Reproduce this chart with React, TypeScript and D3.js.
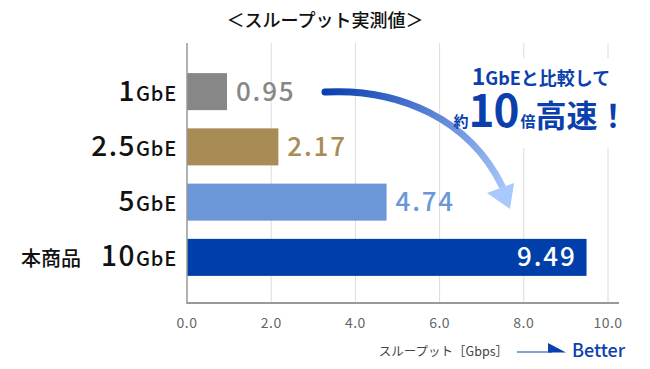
import React from "react"
import * as d3 from "d3"

const categories = ["1GbE", "2.5GbE", "5GbE", "10GbE"]
const catNumbers = ["1", "2.5", "5", "10"]
const values = [0.95, 2.17, 4.74, 9.49]
const barColors = ["#878787", "#a88b55", "#6b96d7", "#003fa9"]
const labelColors = ["#878787", "#a88b55", "#6b96d7", "#ffffff"]
const ticks = [0, 2, 4, 6, 8, 10]

const FONT = "'Noto Sans CJK JP', 'Noto Sans', sans-serif"
const BLUE = "#0b3fae"

const App: React.FC = () => {
  const width = 650
  const height = 369

  const x = d3.scaleLinear().domain([0, 10]).range([187, 608])
  const y = d3.scaleBand<string>()
    .domain(categories)
    .range([64, 285])
    .paddingInner(0.33)
    .paddingOuter(0.165)

  const axisY = 303
  const gridTop = 43

  // curved arrow from 1GbE value toward 10GbE bar
  const arrowPath = "M325,92 C400,88 470,120 502,186"

  return (
    <svg width={width} height={height} style={{ position: "absolute", left: 0, top: 0 }} fontFamily={FONT}>
      <defs>
        <linearGradient id="arrow-grad" x1="325" y1="92" x2="510" y2="205" gradientUnits="userSpaceOnUse">
          <stop offset="0%" stopColor="#0a3fae" />
          <stop offset="100%" stopColor="#b0cdff" />
        </linearGradient>
      </defs>

      <text x={325} y={27} textAnchor="middle" fontSize={18} fontWeight={500} fill="#111">
        ＜スループット実測値＞
      </text>

      {/* grid */}
      {ticks.slice(1).map(t => (
        <line key={t} x1={x(t)} x2={x(t)} y1={gridTop} y2={axisY} stroke="#dcdcdc" strokeWidth={1} />
      ))}

      {/* white box behind annotation */}
      <rect x={462} y={58} width={170} height={90} fill="#fff" />

      {/* bars */}
      {categories.map((c, i) => (
        <rect key={c} x={x(0)} y={y(c)!} width={x(values[i]) - x(0)} height={y.bandwidth()} fill={barColors[i]} />
      ))}

      {/* value labels */}
      {categories.map((c, i) => {
        const inside = i === categories.length - 1
        return (
          <text key={c}
            x={inside ? x(values[i]) - 10 : x(values[i]) + 9}
            y={y(c)! + y.bandwidth() / 2 + 9}
            textAnchor={inside ? "end" : "start"}
            fontSize={26} fontWeight={500} letterSpacing={1.8} fill={labelColors[i]}>
            {values[i].toFixed(2)}
          </text>
        )
      })}

      {/* category labels */}
      {categories.map((c, i) => (
        <text key={c} x={177} y={y(c)! + y.bandwidth() / 2 + 9} textAnchor="end" fill="#111" fontWeight={500}>
          {i === categories.length - 1 && <tspan fontSize={20}>本商品　</tspan>}
          <tspan fontSize={28} letterSpacing={1.5}>{catNumbers[i]}</tspan>
          <tspan fontSize={20} letterSpacing={0.8}>GbE</tspan>
        </text>
      ))}

      {/* axes */}
      <line x1={x(0)} x2={x(0)} y1={gridTop} y2={axisY} stroke="#999" strokeWidth={1.5} />
      <line x1={x(0) - 0.75} x2={619} y1={axisY} y2={axisY} stroke="#999" strokeWidth={2} />
      {ticks.map(t => (
        <text key={t} x={x(t)} y={328} textAnchor="middle" fontSize={14} letterSpacing={0.5} fill="#666">
          {t.toFixed(1)}
        </text>
      ))}

      {/* axis title + Better */}
      <text x={508} y={356} textAnchor="end" fontSize={12.5} fill="#444">スループット［Gbps］</text>
      <line x1={517} x2={552} y1={352} y2={352} stroke={BLUE} strokeWidth={1.2} />
      <path d="M548,343 L566,352.6 L548,352.6 Z" fill={BLUE} />
      <text x={572} y={357} fontSize={18} fill={BLUE} fontWeight={500}>Better</text>

      {/* arrow */}
      <path d={arrowPath} fill="none" stroke="url(#arrow-grad)" strokeWidth={7} strokeLinecap="round" />
      <path d="M487,193 L514,183 L510,209 Z" fill="#a9c8fb" />

      {/* annotation */}
      <text x={541} y={85} textAnchor="middle" fill={BLUE} fontWeight={700}>
        <tspan fontSize={23}>1</tspan>
        <tspan fontSize={18}>GbEと比較して</tspan>
      </text>
      <text x={541} y={127} textAnchor="middle" fill={BLUE} fontWeight={700}>
        <tspan fontSize={15}>約</tspan>
        <tspan fontSize={44} letterSpacing={-1}>10</tspan>
        <tspan fontSize={15} dx={2}>倍</tspan>
        <tspan fontSize={31}>高速！</tspan>
      </text>
    </svg>
  )
}

export default App
